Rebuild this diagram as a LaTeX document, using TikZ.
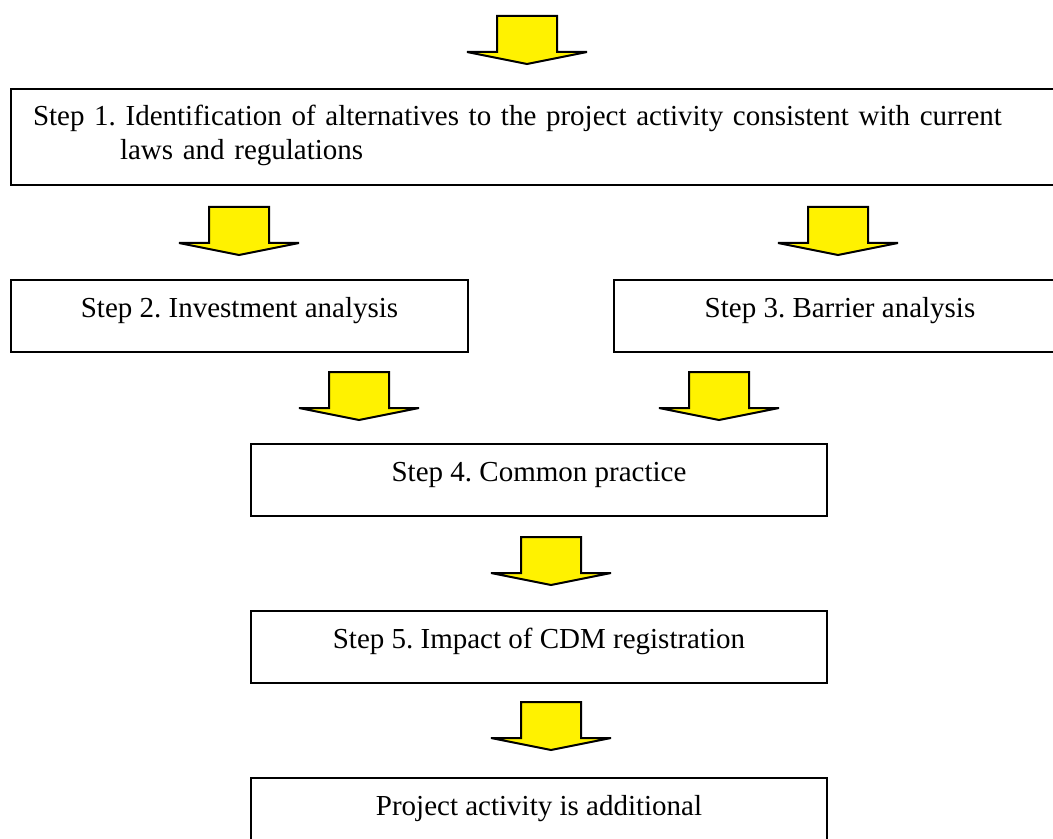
\documentclass[tikz,border=0pt]{standalone}
\usepackage{fontspec}
\setmainfont{Liberation Serif}
\usetikzlibrary{positioning}
\frenchspacing
\def\ArrowColor{yellow}
\newcommand\DownArrow[2]{%
  \draw[arr] ({#1-30},#2) -- ({#1-30},{#2+36}) -- ({#1-60},{#2+36})
    -- (#1,{#2+48}) -- ({#1+60},{#2+36}) -- ({#1+30},{#2+36})
    -- ({#1+30},#2) -- cycle;}

\begin{document}
\begin{tikzpicture} [x=0.5pt, y=-0.5pt,
     N/.style = {draw, line width=1pt, minimum height=36pt, inner ysep=0pt,
                 text height=18.5pt, text depth=17.5pt,
                 font=\fontsize{14.5pt}{17pt}\selectfont},
   arr/.style = {draw, line width=1pt, fill=\ArrowColor},
    node distance=46.5pt
]
  \path[use as bounding box, clip] (0,0) rectangle (1053,839);

  % Nodes and Positions
  % LEVEL 0 (TOP)
  \node[N, minimum width=530pt, minimum height=48pt, text depth=29.5pt,
        text width=508pt, inner xsep=11pt, align=left, anchor=north west]
        (step1) at (10,88)
        {Step 1. Identification of alternatives to the project activity consistent with current\\
         \hspace*{43.5pt}laws and regulations};

  % LEVEL -1
  \node[N, minimum width=228.5pt] (step2) [below=of step1.south west, anchor=north west] {Step 2. Investment analysis};
  \node[N, minimum width=226pt]   (step3) [right=72pt of step2] {Step 3. Barrier analysis};

  % LEVEL -2
  \node[N, minimum width=288pt, anchor=north] (step4) at (539,443) {Step 4. Common practice};
  \node[N, minimum width=288pt] (step5) [below=of step4] {Step 5. Impact of CDM registration};
  \node[N, minimum width=288pt] (step6) [below=of step5] {Project activity is additional};

  % Arrows
  \DownArrow{527}{16}
  \DownArrow{239}{207}
  \DownArrow{838}{207}
  \DownArrow{359}{372}
  \DownArrow{719}{372}
  \DownArrow{551}{537}
  \DownArrow{551}{702}

\end{tikzpicture}
\end{document}
